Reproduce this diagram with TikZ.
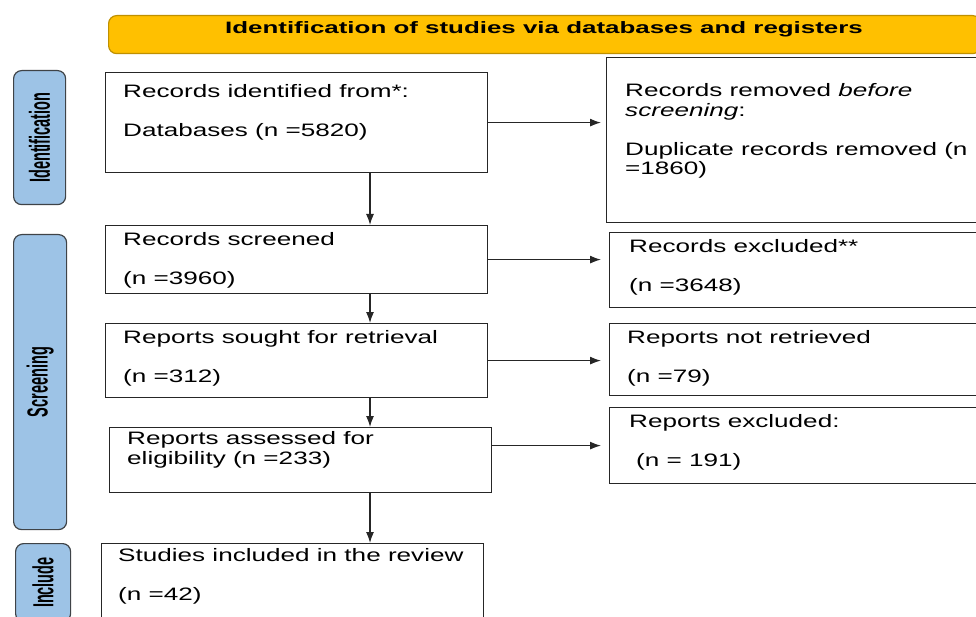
\documentclass[tikz,border=0pt]{standalone}
\usepackage{fontspec}
\setmainfont{Liberation Sans}
\newfontfamily\boxfont[FakeStretch=1.45]{Liberation Sans}
\newfontfamily\headfont[FakeStretch=1.57]{Liberation Sans}
\newfontfamily\sidefont[FakeStretch=0.5]{Liberation Sans}
\usepackage{xcolor}
\usetikzlibrary{arrows.meta}
\definecolor{bannerfill}{HTML}{FFC000}
\definecolor{bannerline}{HTML}{BF9000}
\definecolor{sidefill}{HTML}{9DC3E6}
\definecolor{sideline}{HTML}{3F4347}
\tikzstyle{banner}=[draw=bannerline, fill=bannerfill, line width=1.2pt, rounded corners=8pt, anchor=north west, inner sep=0pt]
\tikzstyle{pbox}=[draw=black!85, line width=1.2pt, anchor=north west, inner sep=0pt]
% base west = baseline of the last line
\tikzstyle{ptext}=[anchor=base west, align=left, inner sep=0pt, font=\boxfont\fontsize{18}{19.5}\selectfont]
\tikzstyle{phase}=[draw=sideline, fill=sidefill, line width=1.2pt, rounded corners=8pt, anchor=north west, inner sep=0pt]
\tikzstyle{phasetext}=[rotate=90, inner sep=0pt, font=\sidefont\bfseries\fontsize{29}{30}\selectfont]
\tikzstyle{flow}=[-{Latex[length=11pt,width=8pt]}, line width=1.2pt, draw=black!85]

\begin{document}
\begin{tikzpicture}[x=1pt,y=-1pt]
\clip (0,0) rectangle (976,617);
% header
\node[banner, minimum width=872pt, minimum height=38pt] (head) at (108,15) {};
\node[anchor=base, inner sep=0pt, font=\headfont\bfseries\fontsize{16.5}{18}\selectfont] (head-t) at (544,34) {Identification of studies via databases and registers};
% phases
\node[phase, minimum width=52pt, minimum height=134pt] (idn) at (13,70) {};
\node[phasetext] (idn-t) at (idn.center) {Identification};
\node[phase, minimum width=53pt, minimum height=295pt] (scn) at (13,234) {};
\node[phasetext] (scn-t) at (scn.center) {Screening};
\node[phase, minimum width=55pt, minimum height=78pt] (inl) at (15,543) {};
\node[phasetext] (inl-t) at (inl.center) {Include};
% main column
\node[pbox, minimum width=382pt, minimum height=100pt] (rec) at (105,72) {};
\node[pbox, minimum width=382pt, minimum height=68pt] (scr) at (105,225) {};
\node[pbox, minimum width=382pt, minimum height=74pt] (sou) at (105,323) {};
\node[pbox, minimum width=382pt, minimum height=65pt] (ass) at (109,427) {};
\node[pbox, minimum width=382pt, minimum height=100pt] (inc) at (101,543) {};
% side column
\node[pbox, minimum width=400pt, minimum height=165pt] (rem) at (606,57) {};
\node[pbox, minimum width=400pt, minimum height=75pt] (exc) at (609,232) {};
\node[pbox, minimum width=400pt, minimum height=72pt] (nre) at (609,323) {};
\node[pbox, minimum width=400pt, minimum height=76pt] (rex) at (609,407) {};
% texts
\node[ptext] (rec-t) at (123,137) {Records identified from*:\\[19.5pt]Databases (n =5820)};
\node[ptext] (scr-t) at (123,284) {Records screened\\[19.5pt](n =3960)};
\node[ptext] (sou-t) at (123,382) {Reports sought for retrieval\\[19.5pt](n =312)};
\node[ptext] (ass-t) at (127,464) {Reports assessed for\\eligibility (n =233)};
\node[ptext] (inc-t) at (118,600) {Studies included in the review\\[19.5pt](n =42)};
\node[ptext] (rem-t) at (625,175) {Records removed \textit{before}\\\textit{screening}:\\[19.5pt]Duplicate records removed (n\\=1860)};
\node[ptext] (exc-t) at (629,291) {Records excluded**\\[19.5pt](n =3648)};
\node[ptext] (nre-t) at (627,382) {Reports not retrieved\\[19.5pt](n =79)};
\node[ptext] (rex-t) at (629,466) {Reports excluded:\\[19.5pt]\hspace{7pt}(n = 191)};
% arrows
\coordinate (col) at (370,0);
\draw[flow] (rec.south -| col) -- (scr.north -| col);
\draw[flow] (scr.south -| col) -- (sou.north -| col);
\draw[flow] (sou.south -| col) -- (ass.north -| col);
\draw[flow] (ass.south -| col) -- (inc.north -| col);
\draw[flow, shorten >=5pt] (rec.east) -- (rec.east -| rem.west);
\draw[flow, shorten >=8pt] (scr.east) -- (scr.east -| exc.west);
\draw[flow, shorten >=8pt] (sou.east) -- (sou.east -| nre.west);
\draw[flow, shorten >=8pt] (ass.east |- rex.west) -- (rex.west);
\end{tikzpicture}
\end{document}
